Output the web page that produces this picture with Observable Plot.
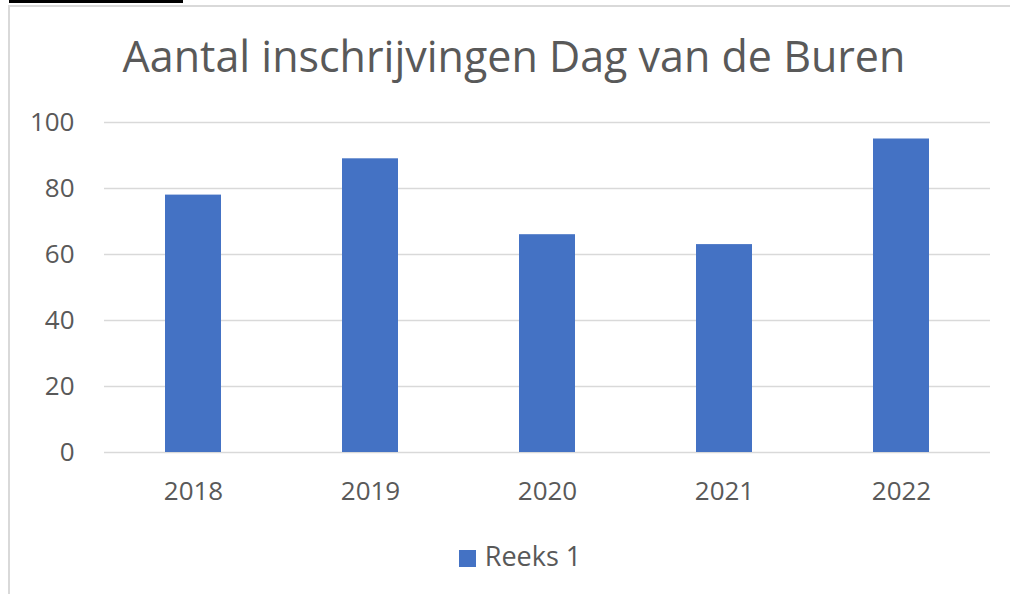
<!DOCTYPE html>
<html>
<head>
<meta charset="utf-8">
<script src="https://cdn.jsdelivr.net/npm/d3@7"></script>
<script src="https://cdn.jsdelivr.net/npm/@observablehq/plot@0.6"></script>
<style>
  html, body { margin: 0; padding: 0; background: #fff; }
  #wrap { position: relative; width: 1010px; height: 594px; overflow: hidden; font-family: "Open Sans", sans-serif; }
  #frameTop { position: absolute; left: 9px; top: 5px; width: 1001px; height: 0; border-top: 2px solid #d9d9d9; }
  #frameLeft { position: absolute; left: 8px; top: 5px; width: 0; height: 589px; border-left: 2px solid #d9d9d9; }
  #clip { position: absolute; left: 9px; top: 0px; width: 174px; height: 3px; background: #000; }
  #title { position: absolute; left: 0; width: 1028px; top: 26px; text-align: center; color: #595959; font-size: 43px; white-space: nowrap; }
  #legend { position: absolute; left: 0; width: 1040px; top: 537px; text-align: center; color: #595959; font-size: 27px; }
  #legend .sw { display: inline-block; width: 17px; height: 17px; background: #4472C4; margin-right: 9px; vertical-align: -1px; }
  #chart { position: absolute; left: 0; top: 0; }
  #chart svg text { font-size: 26px; }
</style>
</head>
<body>
<div id="wrap">
  <div id="clip"></div>
  <div id="frameTop"></div>
  <div id="frameLeft"></div>
  <div id="chart"></div>
  <div id="title">Aantal inschrijvingen Dag van de Buren</div>
  <div id="legend"></div>
</div>
<script>
const years = ["2018", "2019", "2020", "2021", "2022"];
const values = [78, 89, 66, 63, 95];
const yTicks = [0, 20, 40, 60, 80, 100];
const seriesName = "Reeks 1";

const data = years.map((y, i) => ({year: y, value: values[i]}));

const chart = Plot.plot({
  width: 1010,
  height: 594,
  marginLeft: 104,
  marginRight: 20,
  marginTop: 122,
  marginBottom: 142,
  style: { fontFamily: "Open Sans, sans-serif", fontSize: "26px", color: "#595959", background: "transparent" },
  x: { domain: years, paddingInner: 0.684, paddingOuter: 0.342, label: null },
  y: { domain: [0, 100], label: null },
  marks: [
    Plot.ruleY(yTicks, { stroke: "#d9d9d9", strokeWidth: 1.6 }),
    Plot.barY(data, { x: "year", y: "value", fill: "#4472C4" }),
    Plot.axisX({ tickSize: 0, tickPadding: 29, label: null, fill: "#595959", fontSize: 26 }),
    Plot.axisY({ ticks: yTicks, tickSize: 0, tickPadding: 30, label: null, fill: "#595959", fontSize: 26 })
  ]
});
document.getElementById("chart").appendChild(chart);

const legend = document.getElementById("legend");
const sw = document.createElement("span");
sw.className = "sw";
legend.appendChild(sw);
legend.appendChild(document.createTextNode(seriesName));
</script>
</body>
</html>
